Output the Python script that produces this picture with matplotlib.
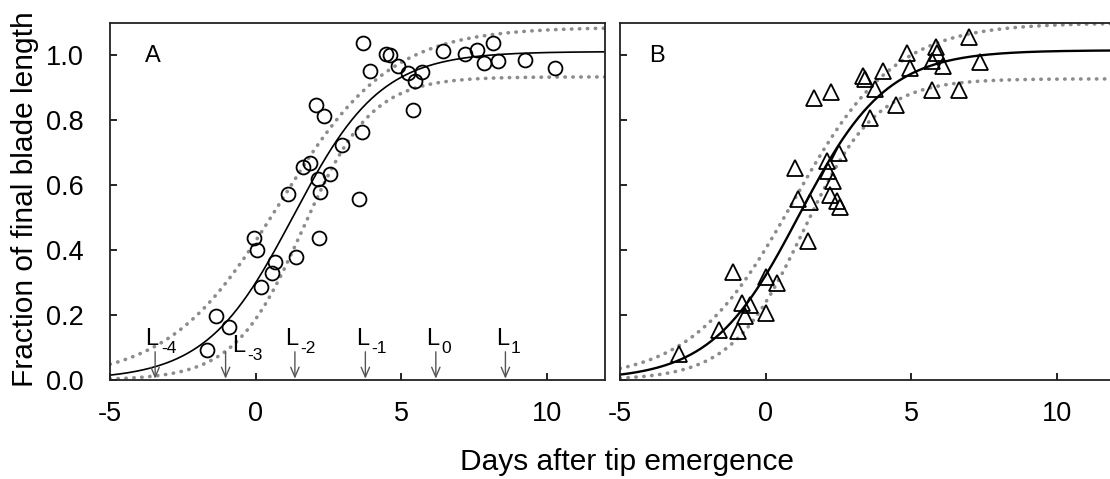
import numpy as np
import matplotlib
matplotlib.use("Agg")
import matplotlib.pyplot as plt

plt.rcParams['font.family'] = ['Liberation Sans', 'DejaVu Sans']
plt.rcParams['axes.unicode_minus'] = False

# Panel A: blade length vs days after tip emergence (circles)
days_a = [-1.68, -1.36, -0.91, -0.05, 0.05, 0.20, 0.55, 0.65, 1.12, 1.38,
          1.63, 1.86, 2.07, 2.15, 2.18, 2.21, 2.34, 2.57, 2.97, 3.56,
          3.64, 3.69, 3.92, 4.49, 4.61, 4.89, 5.24, 5.39, 5.47, 5.73,
          6.42, 7.18, 7.62, 7.83, 8.15, 8.33, 9.24, 10.27]
frac_a = [0.093, 0.198, 0.164, 0.436, 0.400, 0.288, 0.329, 0.364, 0.574, 0.380,
          0.657, 0.668, 0.846, 0.618, 0.437, 0.578, 0.813, 0.634, 0.723, 0.557,
          0.765, 1.039, 0.952, 1.003, 1.000, 0.967, 0.945, 0.832, 0.922, 0.950,
          1.013, 1.003, 1.018, 0.978, 1.039, 0.982, 0.985, 0.962]

# Panel B: second data set (triangles)
days_b = [-2.98, -1.59, -1.11, -0.95, -0.81, -0.72, -0.52, 0.00, 0.03, 0.38,
          1.01, 1.12, 1.46, 1.54, 1.67, 2.11, 2.16, 2.21, 2.24, 2.30,
          2.46, 2.53, 2.57, 3.35, 3.41, 3.58, 3.75, 4.04, 4.49, 4.84,
          4.95, 5.70, 5.73, 5.84, 5.89, 6.09, 6.63, 6.98, 7.35]
frac_b = [0.080, 0.155, 0.333, 0.152, 0.236, 0.198, 0.232, 0.206, 0.318, 0.298,
          0.654, 0.557, 0.429, 0.549, 0.870, 0.675, 0.644, 0.569, 0.887, 0.613,
          0.552, 0.698, 0.534, 0.938, 0.926, 0.806, 0.897, 0.952, 0.846, 1.008,
          0.962, 0.982, 0.895, 1.026, 1.008, 0.967, 0.893, 1.056, 0.979]

# logistic fits and confidence bands: (asymptote, midpoint, scale)
fit_a = (1.012, 1.30, 1.50)
upper_a = (1.087, 0.82, 1.90)
lower_a = (0.934, 1.63, 1.18)
fit_b = (1.016, 1.15, 1.50)
upper_b = (1.100, 0.95, 1.75)
lower_b = (0.928, 1.32, 1.245)

# emergence of successive leaves, relative to the measured leaf
leaf_subs = ['-4', '-3', '-2', '-1', '0', '1']
leaf_days = [-3.45, -1.03, 1.35, 3.77, 6.19, 8.58]


def logistic(x, p):
    a, x0, b = p
    return a / (1.0 + np.exp(-(x - x0) / b))


fig = plt.figure(figsize=(11.1, 4.79), dpi=100)
ax_a = fig.add_axes([110 / 1110, 99 / 479, 495 / 1110, 357 / 479])
ax_b = fig.add_axes([620 / 1110, 99 / 479, 495 / 1110, 357 / 479])

xs = np.linspace(-5, 12, 300)
dot_style = dict(color='#8c8c8c', lw=2.6, linestyle=(0, (0.1, 2.1)),
                 dash_capstyle='round')

ax_a.plot(xs, logistic(xs, upper_a), **dot_style)
ax_a.plot(xs, logistic(xs, lower_a), **dot_style)
ax_a.plot(xs, logistic(xs, fit_a), color='black', lw=1.2)
ax_a.plot(days_a, frac_a, 'o', ms=10, mfc='none', mec='black', mew=1.3)

ax_b.plot(xs, logistic(xs, upper_b), **dot_style)
ax_b.plot(xs, logistic(xs, lower_b), **dot_style)
ax_b.plot(xs, logistic(xs, fit_b), color='black', lw=1.7)
ax_b.plot(days_b, frac_b, '^', ms=11, mfc='none', mec='black', mew=1.3)

# arrows marking tip emergence of the neighbouring leaves
for i, (d, sub) in enumerate(zip(leaf_days, leaf_subs)):
    ax_a.annotate('', xy=(d, 0.004), xytext=(d, 0.087),
                  arrowprops=dict(arrowstyle='->,head_length=0.7,head_width=0.3',
                                  color='#555555', lw=1.0,
                                  shrinkA=0, shrinkB=0))
    if i == 1:
        tx, ty = d + 0.21, 0.087
    else:
        tx, ty = d - 0.33, 0.108
    ax_a.text(tx, ty, 'L', fontsize=17, ha='left', va='baseline')
    ax_a.annotate(sub, xy=(tx, ty), xytext=(11, -6), textcoords='offset points',
                  fontsize=12.5, ha='left', va='baseline')

ax_a.text(-3.8, 0.981, 'A', fontsize=17, ha='left', va='baseline')
ax_b.text(-4.0, 0.981, 'B', fontsize=17, ha='left', va='baseline')

for ax in (ax_a, ax_b):
    ax.set_xlim(-5, 12)
    ax.set_ylim(0, 1.1)
    ax.set_xticks([-5, 0, 5, 10])
    ax.set_xticklabels(['-5', '0', '5', '10'])
    ax.set_yticks([0, 0.2, 0.4, 0.6, 0.8, 1.0])
    ax.tick_params(direction='in', length=5, width=1.2, labelsize=19.5,
                   colors='black')
    ax.tick_params(axis='x', pad=15)
    ax.tick_params(axis='y', pad=19)
    for s in ax.spines.values():
        s.set_linewidth(1.3)
        s.set_color('#222222')

ax_a.set_yticklabels(['0.0', '0.2', '0.4', '0.6', '0.8', '1.0'])
ax_b.tick_params(axis='y', labelleft=False)

fig.text(627 / 1110, 1 - 462 / 479, 'Days after tip emergence',
         fontsize=21.5, ha='center', va='center')
fig.text(25 / 1110, 1 - 199 / 479, 'Fraction of final blade length',
         fontsize=21.5, ha='center', va='center', rotation=90)

fig.savefig('out.png', dpi=100)
